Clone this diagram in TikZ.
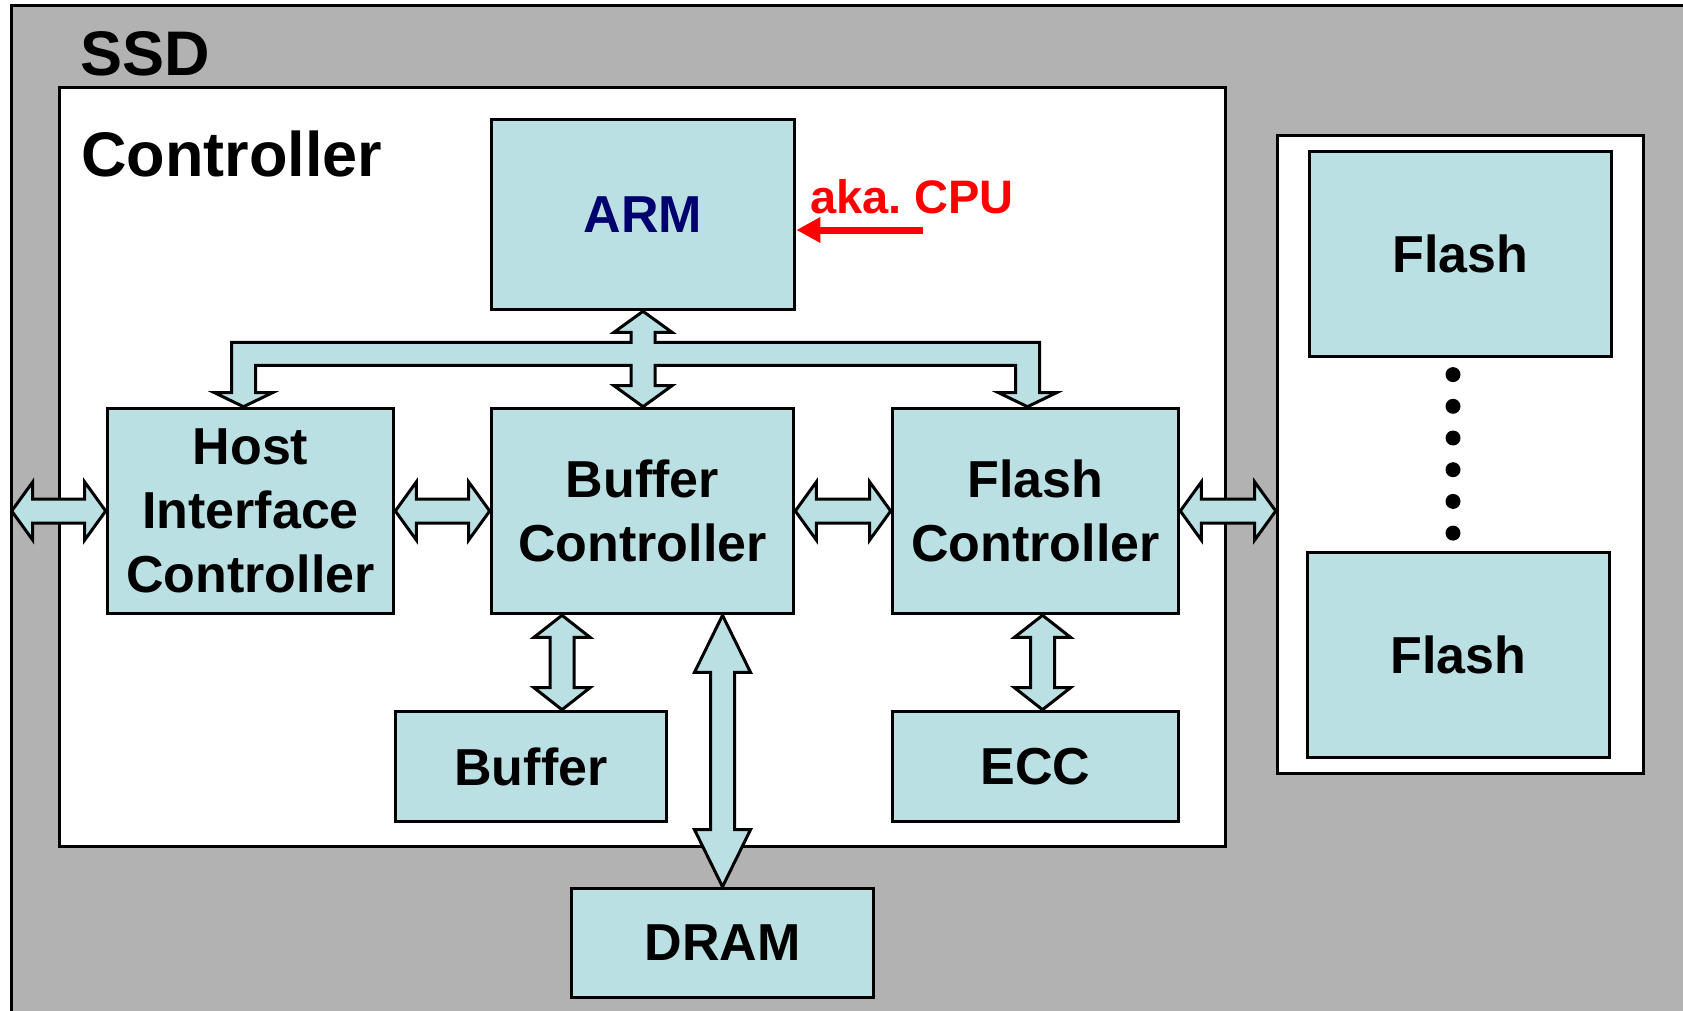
\documentclass[tikz,border=0pt]{standalone}
\usepackage{fontspec}
\setmainfont{Liberation Sans}
\usetikzlibrary{calc,arrows.meta}
\definecolor{boxblue}{RGB}{187,224,227}
\definecolor{ssdgray}{RGB}{178,178,178}
\definecolor{armnavy}{RGB}{0,0,110}
\frenchspacing

\newcommand\hblock[3][21]{%
  \draw[blockarrow] let \p1=#2, \p2=#3 in
    (\x1,\y1) -- (\x1+#1pt,\y1+29pt) -- (\x1+#1pt,\y1+12pt) -- (\x2-#1pt,\y1+12pt)
    -- (\x2-#1pt,\y1+29pt) -- (\x2,\y1) -- (\x2-#1pt,\y1-29pt) -- (\x2-#1pt,\y1-12pt)
    -- (\x1+#1pt,\y1-12pt) -- (\x1+#1pt,\y1-29pt) -- cycle;}
\newcommand\vblock[3][22]{%
  \draw[blockarrow] let \p1=#2, \p2=#3 in
    (\x1,\y1) -- (\x1+28pt,\y1-#1pt) -- (\x1+12pt,\y1-#1pt) -- (\x1+12pt,\y2+#1pt)
    -- (\x1+28pt,\y2+#1pt) -- (\x1,\y2) -- (\x1-28pt,\y2+#1pt) -- (\x1-12pt,\y2+#1pt)
    -- (\x1-12pt,\y1-#1pt) -- (\x1-28pt,\y1-#1pt) -- cycle;}

\begin{document}
\begin{tikzpicture}[x=1pt,y=-1pt,
    box/.style={draw,fill=boxblue,line width=3.6pt,inner sep=0pt,align=center,
      font=\bfseries\fontsize{52}{64}\selectfont},
    panel/.style={draw,fill=white,line width=3.6pt,inner sep=0pt},
    title/.style={anchor=base west,inner sep=0pt,font=\bfseries\fontsize{63}{63}\selectfont},
    blockarrow/.style={draw,fill=boxblue,line width=3pt,line join=miter}]
  \clip (0,0) rectangle (1683,1011);
  \draw[fill=ssdgray,line width=3pt] (11,6) rectangle (1720,1050);
  \node[title] (ssdlabel) at (80,76) {SSD};
  \node[panel,minimum width=1166,minimum height=759] (ctrl) at (642.5,467) {};
  \node[title] (ctrllabel) at (81,177) {Controller};
  \node[panel,minimum width=366,minimum height=638] (bank) at (1460.5,454.5) {};

  \node[box,minimum width=303,minimum height=190,text=armnavy] (arm) at (643,214.5) {ARM};
  \node[box,minimum width=286,minimum height=205] (hic) at (250.5,511) {Host\\Interface\\Controller};
  \node[box,minimum width=302,minimum height=205] (bc) at (642.5,511) {Buffer\\Controller};
  \node[box,minimum width=286,minimum height=205] (fc) at (1035.5,511) {Flash\\Controller};
  \node[box,minimum width=271,minimum height=110] (buf) at (531,766.5) {Buffer};
  \node[box,minimum width=286,minimum height=110] (ecc) at (1035.5,766.5) {ECC};
  \node[box,minimum width=302,minimum height=109] (dram) at (722.5,943) {DRAM};
  \node[box,minimum width=302,minimum height=205] (flasha) at (1460.5,254) {Flash};
  \node[box,minimum width=302,minimum height=205] (flashb) at (1458.5,655) {Flash};
  \foreach \k in {0,...,5}
    \fill (1453,374.6+31.7*\k) circle (7.5);

  \node[anchor=base west,inner sep=0pt,text=red,font=\bfseries\fontsize{47}{47}\selectfont]
    (cpunote) at (810,214) {aka. CPU};
  \coordinate (cputail) at (923,230);
  \draw[red,line width=7pt,-{Triangle[length=24pt,width=24pt]}] (cputail) -- (cputail -| arm.east);

  \coordinate (hostport) at ($(hic.west)+(-94,0)$);
  \coordinate (hictap) at ($(hic.north)+(-7,0)$);
  \coordinate (fctap) at ($(fc.north)+(-8,0)$);
  \coordinate (buftap) at ($(buf.north)+(31,0)$);
  \coordinate (ecctap) at ($(ecc.north)+(7,0)$);

  \draw[blockarrow] let \p1=(arm.south), \p2=(bc.north), \p3=(hictap), \p4=(fctap) in
    (\x1,\y1) -- (\x1+29pt,\y1-21pt) -- (\x1+12pt,\y1-21pt) -- (\x1+12pt,\y1-31pt)
    -- (\x4+12pt,\y1-31pt) -- (\x4+12pt,\y4+14pt) -- (\x4+29pt,\y4+14pt) -- (\x4,\y4)
    -- (\x4-29pt,\y4+14pt) -- (\x4-12pt,\y4+14pt) -- (\x4-12pt,\y1-54pt)
    -- (\x1+12pt,\y1-54pt) -- (\x1+12pt,\y2+21pt) -- (\x1+29pt,\y2+21pt) -- (\x1,\y2)
    -- (\x1-29pt,\y2+21pt) -- (\x1-12pt,\y2+21pt) -- (\x1-12pt,\y1-54pt)
    -- (\x3+12pt,\y1-54pt) -- (\x3+12pt,\y3+14pt) -- (\x3+29pt,\y3+14pt) -- (\x3,\y3)
    -- (\x3-29pt,\y3+14pt) -- (\x3-12pt,\y3+14pt) -- (\x3-12pt,\y1-31pt)
    -- (\x1-12pt,\y1-31pt) -- (\x1-12pt,\y1-21pt) -- (\x1-29pt,\y1-21pt) -- cycle;

  \hblock{(hostport)}{(hic.west)}
  \hblock{(hic.east)}{(bc.west)}
  \hblock{(bc.east)}{(fc.west)}
  \hblock{(fc.east)}{(fc.east -| bank.west)}
  \vblock{(bc.south -| buftap)}{(buftap)}
  \vblock{(fc.south -| ecctap)}{(ecctap)}
  \vblock[57]{(bc.south -| dram.north)}{(dram.north)}
\end{tikzpicture}
\end{document}
